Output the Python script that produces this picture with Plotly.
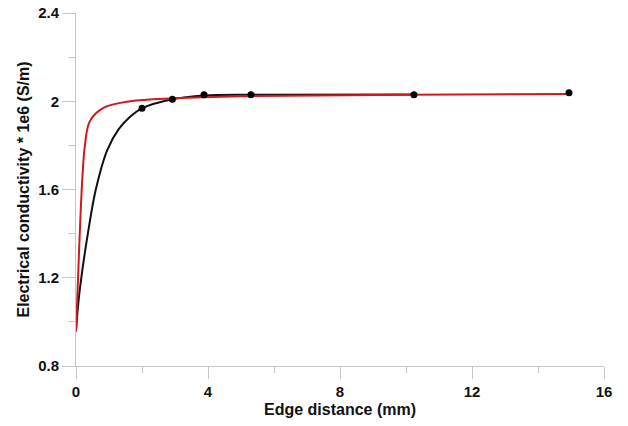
import plotly.graph_objects as go

# Measured data points (black dots)
pts_x = [2.0, 2.92, 3.88, 5.3, 10.24, 14.94]
pts_y = [1.968, 2.009, 2.029, 2.03, 2.029, 2.038]

# Black fitted curve
black_x = [0, 0.08, 0.17, 0.37, 0.6, 0.95, 1.3, 1.64, 2.0, 2.92, 3.88, 5.3, 10.24]
black_y = [0.96, 1.1, 1.21, 1.41, 1.6, 1.78, 1.875, 1.93, 1.968, 2.009, 2.026, 2.03, 2.031]

# Red fitted curve
red_x = [0, 0.05, 0.1, 0.15, 0.2, 0.27, 0.42, 0.83, 1.64, 3.0, 5.0, 10.0, 14.94]
red_y = [0.955, 1.15, 1.35, 1.53, 1.67, 1.8, 1.91, 1.97, 2.0, 2.014, 2.023, 2.029, 2.033]

x_ticks = [0, 4, 8, 12, 16]
y_ticks = [0.8, 1.2, 1.6, 2.0, 2.4]

AX = "#c6c6c6"
FONT = "Liberation Sans, Arial, sans-serif"

fig = go.Figure()
fig.add_trace(go.Scatter(x=black_x, y=black_y, mode="lines",
                         line=dict(color="#111111", width=2, shape="spline", smoothing=1.0),
                         showlegend=False, hoverinfo="skip"))
fig.add_trace(go.Scatter(x=red_x, y=red_y, mode="lines",
                         line=dict(color="#d0191c", width=2, shape="spline", smoothing=1.0),
                         showlegend=False, hoverinfo="skip"))
fig.add_trace(go.Scatter(x=pts_x, y=pts_y, mode="markers",
                         marker=dict(color="#000000", size=7),
                         showlegend=False, cliponaxis=False))

fig.update_layout(
    width=628, height=426,
    margin=dict(l=76, r=24, t=13, b=60),
    paper_bgcolor="white", plot_bgcolor="white",
    font=dict(family=FONT, color="#111111"),
    xaxis=dict(
        range=[0, 16], tickvals=x_ticks, ticktext=[str(v) for v in x_ticks],
        automargin=False,
        showgrid=False, zeroline=False, showline=True, linecolor=AX, linewidth=1,
        ticks="outside", ticklen=12, tickcolor=AX, tickwidth=1,
        tickfont=dict(family=FONT, size=15, weight="bold", color="#111111"),
        minor=dict(dtick=2, ticks="outside", ticklen=6, tickcolor=AX, tickwidth=1, showgrid=False),
        title=dict(text="Edge distance (mm)", standoff=4,
                   font=dict(family=FONT, size=16, weight="bold", color="#111111")),
    ),
    yaxis=dict(
        range=[0.8, 2.4], tickvals=y_ticks, ticktext=["0.8", "1.2", "1.6", "2", "2.4"],
        automargin=False,
        showgrid=False, zeroline=False, showline=True, linecolor=AX, linewidth=1,
        ticks="outside", ticklen=13, tickcolor=AX, tickwidth=1,
        tickfont=dict(family=FONT, size=15, weight="bold", color="#111111"),
        minor=dict(dtick=0.2, ticks="outside", ticklen=7, tickcolor=AX, tickwidth=1, showgrid=False),
        title=dict(text="Electrical conductivity * 1e6 (S/m)", standoff=4,
                   font=dict(family=FONT, size=16, weight="bold", color="#111111")),
    ),
)

fig.write_html("out.html", config={"displayModeBar": False},
               post_script="document.body.style.margin='0';document.body.style.padding='0';")
